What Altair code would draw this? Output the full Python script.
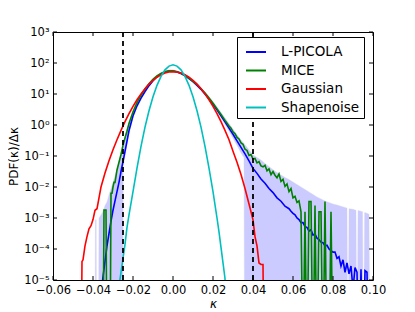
import altair as alt
import pandas as pd

# ---------------- data (log10 of PDF(kappa)/dkappa) ----------------
EMPTY = -8  # empty histogram bin (falls below the axis floor and is clipped)

series_names = ["L-PICOLA", "MICE", "Gaussian", "Shapenoise"]
series_colors = ["#0000ff", "#008000", "#ff0000", "#00bfbf"]

lpicola_k = [-0.036, -0.0355, -0.035, -0.034, -0.033, -0.032, -0.031, -0.030, -0.029, -0.028,
             -0.027, -0.026, -0.025, -0.024, -0.023, -0.022,
             -0.020, -0.018, -0.016, -0.014, -0.012, -0.010, -0.008, -0.006, -0.004, -0.002,
             0.000, 0.002, 0.004, 0.006, 0.008, 0.010, 0.012, 0.014, 0.016, 0.018, 0.020,
             0.022, 0.024, 0.026, 0.028, 0.030, 0.032, 0.034, 0.036, 0.038, 0.040,
             0.042, 0.044, 0.046, 0.048, 0.050, 0.052, 0.054, 0.056, 0.058,
             0.059, 0.060, 0.061, 0.062, 0.063, 0.064, 0.065, 0.066, 0.067, 0.068,
             0.069, 0.070, 0.071, 0.072, 0.073, 0.074, 0.075, 0.076, 0.077, 0.078,
             0.079, 0.080, 0.081, 0.082, 0.083, 0.084, 0.085, 0.086, 0.087, 0.088,
             0.089, 0.090, 0.091, 0.092, 0.093, 0.094, 0.095, 0.096, 0.097, 0.098]
lpicola_log = [EMPTY, -5.2, -4.9, -4.4, -3.9, -3.5, -3.1, -2.75, -2.45, -2.15,
               -1.85, -1.5, -1.18, -0.85, -0.52, -0.18,
               0.3, 0.62, 0.87, 1.08, 1.27, 1.43, 1.56, 1.65, 1.71, 1.74,
               1.74, 1.71, 1.66, 1.59, 1.50, 1.40, 1.28, 1.15, 1.0, 0.84, 0.67,
               0.49, 0.30, 0.10, -0.1, -0.3, -0.51, -0.72, -0.93, -1.16, -1.4,
               -1.56, -1.74, -1.88, -2.05, -2.18, -2.35, -2.46, -2.62, -2.7,
               -2.78, -2.85, -2.9, -3.0, -3.05, -3.15, -3.15, -3.28, -3.3, -3.42,
               -3.38, -3.55, -3.52, -3.65, -3.7, -3.78, -3.8, -3.9, -3.88, -4.0,
               -4.05, -4.1, -4.1, -4.3, -4.25, -4.55, -4.35, -4.75, -4.45, -4.8,
               -4.55, -5.3, -4.6, -4.75, EMPTY, -4.65, EMPTY, -4.7, -4.75, EMPTY]

mice_k = [-0.035, -0.0345, -0.0335, -0.033, -0.0315, -0.031, -0.0305, -0.030, -0.0295, -0.029,
          -0.028, -0.027, -0.026, -0.025, -0.024, -0.023, -0.022,
          -0.020, -0.018, -0.016, -0.014, -0.012, -0.010, -0.008, -0.006, -0.004, -0.002,
          0.000, 0.002, 0.004, 0.006, 0.008, 0.010, 0.012, 0.014, 0.016, 0.018, 0.020,
          0.022, 0.024, 0.026, 0.028,
          0.029, 0.030, 0.031, 0.032, 0.033, 0.034, 0.035, 0.036, 0.037, 0.038,
          0.039, 0.040, 0.041, 0.042, 0.043, 0.044, 0.045, 0.046, 0.047, 0.048,
          0.049, 0.050, 0.051, 0.052, 0.053, 0.054, 0.055, 0.056, 0.057, 0.058,
          0.059, 0.060, 0.061, 0.062, 0.063, 0.064, 0.065, 0.066, 0.067, 0.068,
          0.069, 0.070, 0.071, 0.072, 0.073, 0.074, 0.075, 0.076, 0.077, 0.078,
          0.079, 0.080, 0.081]
mice_log = [EMPTY, -2.74, -2.74, EMPTY, EMPTY, -2.2, -2.2, -2.0, -1.85, -1.85,
            -1.45, -1.2, -0.95, -0.65, -0.42, -0.2, 0.05,
            0.42, 0.72, 0.96, 1.16, 1.33, 1.47, 1.58, 1.66, 1.72, 1.745,
            1.745, 1.72, 1.67, 1.60, 1.51, 1.41, 1.30, 1.17, 1.03, 0.87, 0.70,
            0.52, 0.34, 0.15, -0.03,
            -0.1, -0.22, -0.28, -0.40, -0.45, -0.58, -0.62, -0.78, -0.82, -0.98,
            -0.95, -1.1, -1.08, -1.22, -1.18, -1.32, -1.35, -1.3, -1.48, -1.42,
            -1.6, -1.5, -1.62, -1.7, -1.58, -1.82, -1.75, -1.98, -1.9, -2.15,
            -2.05, -2.35, -2.3, -2.5, -2.45, -2.8, EMPTY, -2.8, EMPTY, -2.47,
            -2.47, EMPTY, -2.6, EMPTY, -2.8, -2.8, EMPTY, -2.47, EMPTY, EMPTY,
            -2.8, EMPTY, EMPTY]

gauss_k = [-0.046, -0.0455, -0.045, -0.044, -0.043, -0.042, -0.041, -0.040, -0.039, -0.038,
           -0.037, -0.036,
           -0.034, -0.032, -0.030, -0.028, -0.026, -0.024, -0.022, -0.020, -0.018, -0.016,
           -0.014, -0.012, -0.010, -0.008, -0.006, -0.004, -0.002,
           0.000, 0.002, 0.004, 0.006, 0.008, 0.010, 0.012, 0.014, 0.016, 0.018, 0.020,
           0.022, 0.024, 0.026, 0.028, 0.030, 0.032, 0.034, 0.036,
           0.038, 0.039, 0.040, 0.041, 0.042, 0.043, 0.044, 0.045, 0.0455]
gauss_log = [EMPTY, -4.4, -4.35, -3.9, -3.6, -3.35, -3.25, -3.05, -2.75, -2.7,
             -2.35, -2.0,
             -1.55, -1.15, -0.80, -0.475, -0.173, 0.107, 0.365, 0.60, 0.813, 1.003,
             1.171, 1.317, 1.44, 1.541, 1.619, 1.675, 1.709,
             1.72, 1.709, 1.675, 1.619, 1.541, 1.44, 1.317, 1.171, 1.003, 0.813, 0.60,
             0.365, 0.107, -0.173, -0.475, -0.85, -1.2, -1.6, -2.05,
             -2.55, -2.8, -3.06, -3.6, -3.9, -4.45, -4.5, -4.5, EMPTY]

shape_k = [-0.0275, -0.027, -0.026, -0.025, -0.024, -0.023, -0.022,
           -0.020, -0.018, -0.016, -0.014, -0.012, -0.010, -0.008, -0.006, -0.004, -0.002,
           0.000, 0.002, 0.004, 0.006, 0.008, 0.010, 0.012, 0.014, 0.016, 0.018, 0.020,
           0.022, 0.023, 0.024, 0.025, 0.026, 0.0265]
shape_log = [EMPTY, -5.2, -4.75, -4.3, -3.85, -3.3, -2.9,
             -2.15, -1.39, -0.69, -0.07, 0.46, 0.91, 1.28, 1.57, 1.78, 1.90,
             1.94, 1.90, 1.78, 1.57, 1.28, 0.91, 0.46, -0.07, -0.69, -1.39, -2.15,
             -3.0, -3.45, -3.95, -4.45, -4.95, EMPTY]

# spread of the L-PICOLA realisations (shaded band)
band_k = [-0.0390, -0.0388, -0.0384, -0.0382, -0.0373, -0.0370, -0.036, -0.035, -0.034, -0.033,
          -0.032, -0.031, -0.030, -0.029, -0.028, -0.027, -0.026, -0.025,
          -0.0249, -0.024, -0.022,
          -0.020, -0.018, -0.016, -0.014, -0.012, -0.010, -0.008, -0.006, -0.004, -0.002,
          0.000, 0.002, 0.004, 0.006, 0.008, 0.010, 0.012, 0.014, 0.016, 0.018, 0.020,
          0.022, 0.024, 0.026, 0.028, 0.030, 0.032, 0.034,
          0.0355, 0.0358, 0.038,
          0.040, 0.042, 0.044, 0.046, 0.048, 0.050, 0.052, 0.054, 0.056, 0.058,
          0.060, 0.062, 0.064, 0.066, 0.068, 0.070, 0.072, 0.074, 0.076, 0.078,
          0.080, 0.082, 0.084, 0.086,
          0.087, 0.0875, 0.088, 0.090, 0.0915, 0.092, 0.0925, 0.094, 0.0948, 0.0952,
          0.0958, 0.097, 0.098, 0.0985]
band_upper_log = [EMPTY, -3.06, -3.06, EMPTY, EMPTY, -3.0, -2.9, -2.78, -2.6, -2.48,
                  -2.25, -2.05, -1.85, -1.63, -1.42, -1.18, -0.92, -0.68,
                  -0.66, -0.35, 0.1,
                  0.47, 0.76, 1.0, 1.19, 1.36, 1.5, 1.61, 1.69, 1.75, 1.78,
                  1.78, 1.75, 1.70, 1.63, 1.55, 1.45, 1.34, 1.21, 1.07, 0.92, 0.76,
                  0.59, 0.41, 0.23, 0.05, -0.13, -0.31, -0.48,
                  -0.6, -0.62, -0.8,
                  -0.96, -1.05, -1.13, -1.24, -1.34, -1.44, -1.53, -1.61, -1.69, -1.76,
                  -1.84, -1.92, -2.0, -2.08, -2.16, -2.24, -2.32, -2.39, -2.45, -2.5,
                  -2.55, -2.58, -2.62, -2.66,
                  -2.68, EMPTY, -2.7, -2.72, -2.75, EMPTY, -2.76, -2.78, -2.8, EMPTY,
                  -2.82, -2.85, -2.88, EMPTY]
band_lower_log = ([EMPTY] * 18
                  + [-1.3, -1.0, -0.3,
                     0.22, 0.56, 0.82, 1.04, 1.24, 1.41, 1.54, 1.63, 1.69, 1.72,
                     1.72, 1.69, 1.64, 1.57, 1.48, 1.38, 1.26, 1.12, 0.97, 0.8, 0.62,
                     0.43, 0.23, 0.02, -0.2, -0.43, -0.66, -0.9,
                     -1.05]
                  + [EMPTY] * 40)

kappa_cuts = [-0.025, 0.04]
x_ticks = [-0.06, -0.04, -0.02, 0.0, 0.02, 0.04, 0.06, 0.08, 0.10]
y_decades = [-5, -4, -3, -2, -1, 0, 1, 2, 3]

# ---------------- tables ----------------
curves = [(lpicola_k, lpicola_log), (mice_k, mice_log), (gauss_k, gauss_log), (shape_k, shape_log)]
rows = []
for name, (ks, ls) in zip(series_names, curves):
    assert len(ks) == len(ls), name
    rows += [{"kappa": k, "pdf": 10.0 ** v, "series": name} for k, v in zip(ks, ls)]
lines_df = pd.DataFrame(rows)

assert len(band_k) == len(band_upper_log) == len(band_lower_log)
band_df = pd.DataFrame({"kappa": band_k,
                        "hi": [10.0 ** v for v in band_upper_log],
                        "lo": [10.0 ** v for v in band_lower_log]})
cuts_df = pd.DataFrame({"kappa": kappa_cuts})
xt_df = pd.DataFrame({"kappa": x_ticks})
yt_df = pd.DataFrame({"pdf": [10.0 ** e for e in y_decades]})

W, H = 320, 248
FONT = "DejaVu Sans"

sup = str.maketrans("-0123456789", "⁻⁰¹²³⁴⁵⁶⁷⁸⁹")
expr = ""
for e in y_decades[:-1]:
    expr += f"datum.value < {3 * 10.0 ** e} ? '10{str(e).translate(sup)}' : "
expr += f"'10{str(y_decades[-1]).translate(sup)}'"

x_scale = alt.Scale(domain=[-0.06, 0.10], nice=False, zero=False)
y_scale = alt.Scale(type="log", domain=[1e-5, 1e3], nice=False)

x_axis = alt.Axis(values=x_ticks, format=".2f", title="κ", grid=False, ticks=False,
                  domain=False, labelFontSize=11.5, labelPadding=4, labelFlush=False,
                  labelOverlap=False, labelBound=False, labelSeparation=0, titleFontSize=12,
                  titleFontStyle="italic", titleFontWeight="normal", titlePadding=3)
y_axis = alt.Axis(values=[10.0 ** e for e in y_decades], labelExpr=expr,
                  title="PDF(κ)/Δκ", grid=False, ticks=False, domain=False,
                  labelFontSize=11.5, labelPadding=4, labelOverlap=False, titleFontSize=12,
                  titleFontWeight="normal", titlePadding=3)


def X(field):
    return alt.X(field, scale=x_scale, axis=x_axis, title="κ")


def Y(field):
    return alt.Y(field, scale=y_scale, axis=y_axis, title="PDF(κ)/Δκ")


color_enc = alt.Color("series:N", scale=alt.Scale(domain=series_names, range=series_colors),
                      legend=alt.Legend(orient="none", legendX=184, legendY=5, title=None,
                                        symbolType="stroke", symbolSize=400, symbolStrokeWidth=2,
                                        labelFontSize=13.5, labelFont=FONT, padding=4,
                                        symbolOffset=4, labelOffset=14, rowPadding=0.5,
                                        strokeColor="black", fillColor="white"))

band = alt.Chart(band_df).mark_area(clip=True, color="#0000ff", opacity=0.2,
                                    stroke="#3030a0", strokeOpacity=0.35, strokeWidth=1).encode(
    x=X("kappa:Q"), y=Y("hi:Q"), y2="lo:Q")

layers = [band]
for name in series_names:
    layers.append(
        alt.Chart(lines_df).transform_filter(alt.datum.series == name)
        .mark_line(clip=True, strokeWidth=1.6)
        .encode(x=X("kappa:Q"), y=Y("pdf:Q"), color=color_enc, order="kappa:Q"))

cuts = alt.Chart(cuts_df).mark_rule(color="black", strokeDash=[5, 4], strokeWidth=1.8).encode(
    x=X("kappa:Q"))

tick_style = dict(color="black", strokeWidth=1)
xt_bottom = alt.Chart(xt_df).mark_rule(**tick_style).encode(
    x=X("kappa:Q"), y=alt.value(H), y2=alt.value(H - 4))
xt_top = alt.Chart(xt_df).mark_rule(**tick_style).encode(
    x=X("kappa:Q"), y=alt.value(0), y2=alt.value(4))
yt_left = alt.Chart(yt_df).mark_rule(**tick_style).encode(
    y=Y("pdf:Q"), x=alt.value(0), x2=alt.value(4))
yt_right = alt.Chart(yt_df).mark_rule(**tick_style).encode(
    y=Y("pdf:Q"), x=alt.value(W - 4), x2=alt.value(W))

chart = alt.layer(*layers, cuts, xt_bottom, xt_top, yt_left, yt_right).properties(
    width=W, height=H,
    autosize=alt.AutoSizeParams(type="none"),
    padding={"left": 45, "top": 24, "right": 30, "bottom": 30},
).configure(font=FONT).configure_view(stroke="black", strokeWidth=1).configure_axis(
    labelColor="black", titleColor="black", labelFont=FONT, titleFont=FONT,
    labelOverlap=False)

chart.save("out.html", embed_options={"renderer": "svg", "actions": False})
